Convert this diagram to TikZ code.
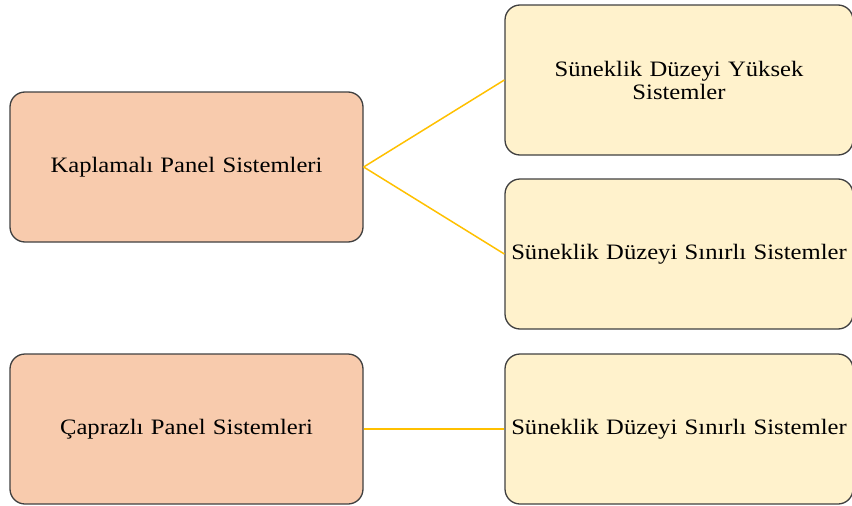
\documentclass[tikz,border=0pt]{standalone}
\usepackage{fontspec}
\setmainfont{Liberation Serif}
\newfontfamily\boxfont[FakeStretch=1.12]{Liberation Serif}
\definecolor{peach}{HTML}{F8CBAD}
\definecolor{cream}{HTML}{FFF2CC}
\definecolor{edge}{HTML}{404040}
\definecolor{gold}{HTML}{FFC000}
\begin{document}
\begin{tikzpicture}[x=1pt,y=-1pt,
  boxbase/.style={draw=edge,line width=1.3pt,rounded corners=15pt,inner sep=0pt,
    align=center,font=\boxfont\fontsize{22}{23}\selectfont},
  leftbox/.style={boxbase,fill=peach,minimum width=353pt,minimum height=150pt,text width=345pt},
  rightbox/.style={boxbase,fill=cream,minimum width=348pt,minimum height=150pt,text width=346pt},
  link/.style={draw=gold,line width=1.5pt}]
\useasboundingbox (0,0) rectangle (852,506);
\node[leftbox] (kp) at (186.5,167) {Kaplamalı Panel Sistemleri};
\node[leftbox] (cp) at (186.5,429) {Çaprazlı Panel Sistemleri};
\node[rightbox] (r1) at (679,80) {Süneklik Düzeyi Yüksek\\Sistemler};
\node[rightbox] (r2) at (679,254) {Süneklik Düzeyi Sınırlı Sistemler};
\node[rightbox] (r3) at (679,429) {Süneklik Düzeyi Sınırlı Sistemler};
\draw[link] (kp.east) -- (r1.west);
\draw[link] (kp.east) -- (r2.west);
\draw[link,line width=1.6pt] (cp.east) -- (r3.west);
\end{tikzpicture}
\end{document}
